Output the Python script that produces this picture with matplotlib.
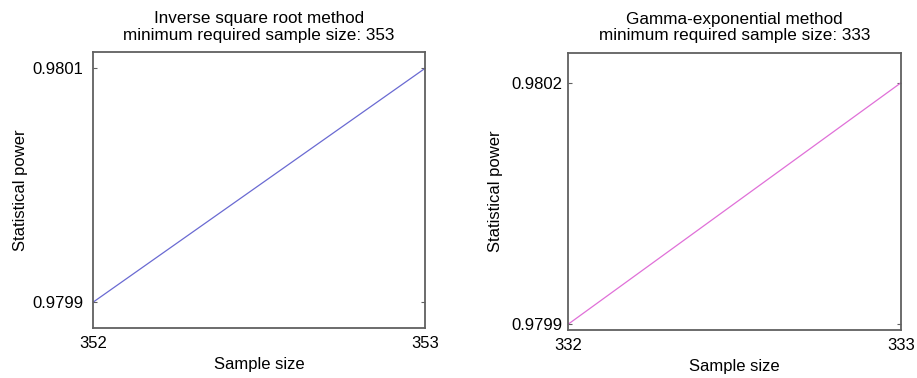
import matplotlib as mpl
mpl.use("Agg")
import matplotlib.pyplot as plt

# data
isr_sizes = [352, 353]
isr_power = [0.9799, 0.9801]
gamma_sizes = [332, 333]
gamma_power = [0.9799, 0.9802]

titles = ["Inverse square root method\nminimum required sample size: 353",
          "Gamma-exponential method\nminimum required sample size: 333"]

plt.rcParams['font.family'] = ['Liberation Sans', 'DejaVu Sans']

fig = plt.figure(figsize=(9.17, 3.78), dpi=100)
ax1 = fig.add_axes([0.1014, 0.1323, 0.362, 0.730])
ax2 = fig.add_axes([0.6194, 0.127, 0.3631, 0.7328])

def style(ax, xs, ys, color, title, ylim, ypad, lpad):
	ax.plot(xs, ys, color=color, lw=0.9)
	ax.set_xlim(xs[0], xs[-1])
	ax.set_ylim(*ylim)
	ax.set_xticks(xs)
	ax.set_yticks(ys)
	ax.set_yticklabels(["%.4f" % v for v in ys])
	ax.tick_params(axis='both', direction='in', length=3, color='#606060',
	               labelsize=12, right=True, top=False)
	ax.tick_params(axis='x', length=0, pad=6)
	ax.tick_params(axis='y', pad=ypad)
	for s in ax.spines.values():
		s.set_color('#606060')
		s.set_linewidth(1.3)
	ax.set_xlabel('Sample size', fontsize=12, labelpad=4)
	ax.set_ylabel('Statistical power', fontsize=12, labelpad=lpad)
	ax.set_title(title, fontsize=12.3, linespacing=1.15, pad=9)

style(ax1, isr_sizes, isr_power, '#6a6ad2', titles[0], (0.979878, 0.980114), 7, 3)
style(ax2, gamma_sizes, gamma_power, '#e070d8', titles[1], (0.979893, 0.980237), 4, 6)

fig.savefig('out.png', dpi=100)
